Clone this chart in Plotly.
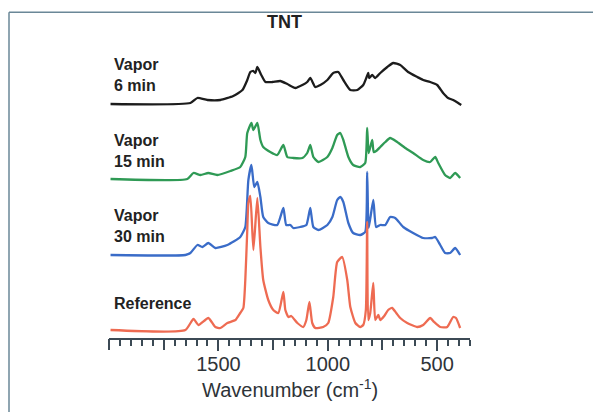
import plotly.graph_objects as go

# ---- data (wavenumber in cm^-1, relative intensity) ----
ref_wn = [1993,1651,1614,1591,1546,1514,1491,1459,1422,1400,1386,1377,1368,1363,1354,1340,1322,1308,1295,1272,1249,1226,1203,1194,1180,1167,1139,1112,1098,1084,1071,1057,1021,998,975,957,934,911,897,874,852,838,826,820,815,806,792,783,769,760,742,724,706,687,669,637,591,564,532,514,486,454,427,414,395]
ref_int = [0,0,11,5,12,3,2,7,10,17,22,50,100,127,134,80,132,83,50,30,20,17,38,20,13,14,7,3,10,28,7,2,3,7,33,68,73,50,23,7,3,5,20,108,10,17,47,10,15,10,14,20,22,17,12,7,3,5,12,8,3,3,13,12,2]

v30_wn = [1993,1651,1628,1596,1573,1546,1514,1459,1400,1377,1363,1349,1336,1322,1308,1295,1272,1231,1203,1190,1171,1158,1126,1098,1080,1066,1043,1002,979,957,943,929,906,884,852,829,820,813,792,779,760,737,715,692,655,610,564,523,509,486,464,441,418,395]
v30_int = [0,0,2,10,8,12,7,10,18,28,75,90,68,73,58,38,32,30,47,30,30,27,28,30,47,28,25,30,38,55,58,53,32,22,20,23,83,27,55,28,30,30,38,37,28,22,17,17,18,10,2,2,7,0]

v15_wn = [1993,1642,1614,1582,1546,1505,1445,1400,1377,1368,1349,1340,1322,1308,1295,1263,1231,1203,1185,1158,1116,1094,1080,1066,1043,1002,979,957,943,929,906,884,852,829,820,813,797,790,779,760,737,715,683,646,610,564,532,509,495,464,441,418,395]
v15_int = [0,0,6,4,6,4,8,12,22,46,56,49,56,39,32,27,24,34,22,21,21,26,34,22,17,22,31,44,46,39,22,14,12,16,51,26,39,27,28,32,37,41,37,31,26,19,17,22,16,4,1,6,1]

v6_wn = [1993,1628,1596,1550,1491,1432,1390,1368,1354,1340,1331,1322,1304,1285,1253,1217,1185,1148,1116,1094,1080,1057,1034,1002,975,952,929,897,865,838,824,815,811,797,783,760,728,701,669,633,591,564,532,500,473,450,427,404,390]
v6_int = [0,1,6,4,4,8,14,24,32,33,31,37,29,22,22,23,20,16,19,22,26,17,19,24,31,32,24,14,14,19,26,31,26,29,26,31,37,41,39,32,27,24,22,19,11,6,4,1,-1]

labels = ["Reference", "Vapor<br>30 min", "Vapor<br>15 min", "Vapor<br>6 min"]
label_vals = [1500, 1000, 500]
label_text = ["1500", "1000", "500"]
long_tick_vals = [2000, 1750, 1250, 750]

# ---- layout constants ----
offsets = [8, 83, 159, 234]
label_y = [35, 112, 187, 263]
colors = ["#ee6b52", "#3a6cc8", "#2f9a55", "#1c1c1c"]
axis_col = "#3c4a55"

series = [(ref_wn, ref_int), (v30_wn, v30_int), (v15_wn, v15_int), (v6_wn, v6_int)]

fig = go.Figure()
for i in [3, 2, 1, 0]:
    wn, it = series[i]
    fig.add_trace(go.Scatter(
        x=wn, y=[v + offsets[i] for v in it], mode="lines",
        line=dict(color=colors[i], width=2.3, shape="spline", smoothing=0.5),
        showlegend=False, hoverinfo="skip"))

# invisible trace to anchor the secondary (tick-only) axis
fig.add_trace(go.Scatter(x=[2000], y=[0], xaxis="x2", mode="markers",
                         marker=dict(opacity=0), showlegend=False, hoverinfo="skip"))

annotations = []
for i, lab in enumerate(labels):
    annotations.append(dict(
        x=1987, y=label_y[i], xref="x", yref="y", text="<b>" + lab + "</b>",
        showarrow=False, xanchor="left", yanchor="middle", align="left",
        font=dict(family="Liberation Sans, Arial", size=16, color="#222222")))

annotations.append(dict(
    x=0.4875, y=1.026, xref="paper", yref="paper", text="<b>TNT</b>",
    showarrow=False, xanchor="center", yanchor="middle",
    font=dict(family="Liberation Sans, Arial", size=18, color="#222222")))

annotations.append(dict(
    x=0.50, y=-0.165, xref="paper", yref="paper",
    text="Wavenumber (cm<sup>-1</sup>)",
    showarrow=False, xanchor="center", yanchor="middle",
    font=dict(family="Liberation Sans, Arial", size=20, color="#2e3338")))

frame_color = "#6a8797"
shapes = [
    dict(type="line", xref="paper", yref="paper", x0=-0.277, x1=1.4, y0=1.058, y1=1.058,
         line=dict(color=frame_color, width=1.5)),
    dict(type="line", xref="paper", yref="paper", x0=-0.277, x1=-0.277, y0=1.058, y1=-0.3,
         line=dict(color=frame_color, width=1.5)),
]

fig.update_layout(
    width=593, height=412,
    margin=dict(l=109, r=123, t=30, b=74),
    paper_bgcolor="white", plot_bgcolor="white",
    annotations=annotations, shapes=shapes,
    xaxis=dict(
        range=[2000, 350], showgrid=False, zeroline=False,
        showline=True, linecolor=axis_col, linewidth=2,
        tickmode="array", tickvals=label_vals, ticktext=label_text,
        ticks="outside", ticklen=11, tickwidth=2, tickcolor=axis_col,
        ticklabelstandoff=-4,
        tickfont=dict(family="Liberation Sans, Arial", size=20, color="#2e3338"),
        minor=dict(tickmode="linear", tick0=0, dtick=50, ticks="outside",
                   ticklen=6, tickwidth=1.5, tickcolor=axis_col, showgrid=False),
    ),
    xaxis2=dict(
        range=[2000, 350], overlaying="x", anchor="y", side="bottom",
        showgrid=False, zeroline=False, showline=False, showticklabels=False,
        tickmode="array", tickvals=long_tick_vals,
        ticks="outside", ticklen=11, tickwidth=2, tickcolor=axis_col,
    ),
    yaxis=dict(range=[0, 308], visible=False, showgrid=False, zeroline=False),
)

fig.write_html("out.html", config={"displayModeBar": False},
               post_script="document.body.style.margin='0';")
